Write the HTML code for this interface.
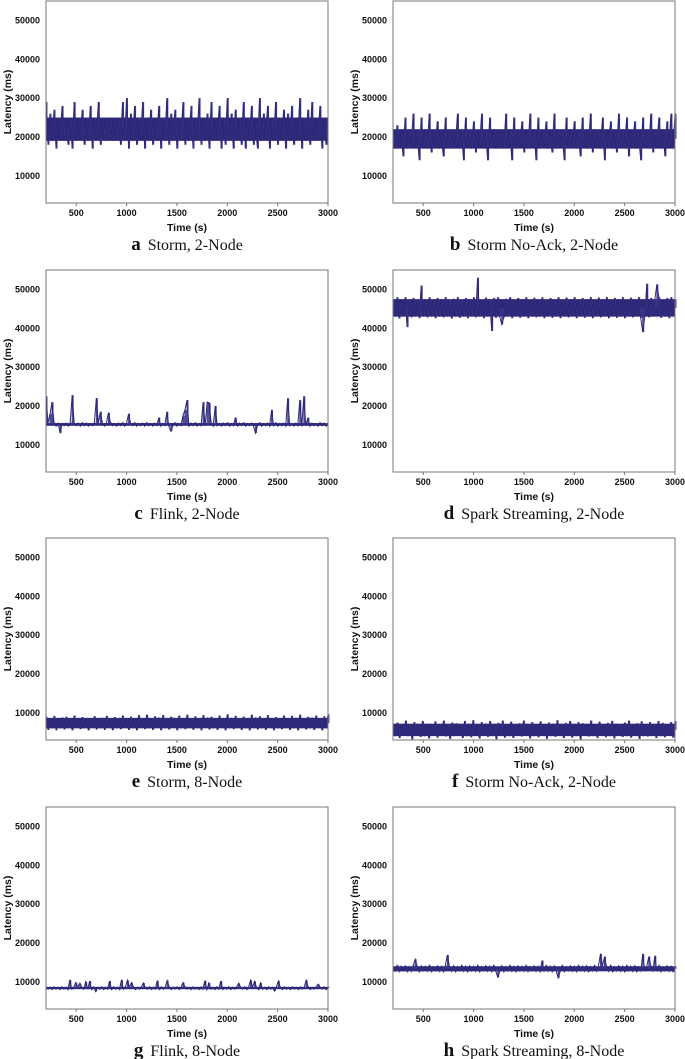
<!DOCTYPE html>
<html><head><meta charset="utf-8"><style>
html,body{margin:0;padding:0;background:#fff;}
svg{display:block;}
.tk{font-family:"Liberation Sans",sans-serif;font-weight:bold;font-size:9px;fill:#111;}
.ax{font-family:"Liberation Sans",sans-serif;font-weight:bold;font-size:10.5px;fill:#111;}
.cap{font-family:"Liberation Serif",serif;font-size:16px;fill:#111;}
</style></head><body>
<svg id="fig" width="685" height="1059" viewBox="0 0 685 1059" xmlns="http://www.w3.org/2000/svg"></svg>
<script>
const xTicks=[500,1000,1500,2000,2500,3000];
const yTicks=[10000,20000,30000,40000,50000];
const captionLetters=["a","b","c","d","e","f","g","h"];
const captionTexts=["Storm, 2-Node","Storm No-Ack, 2-Node","Flink, 2-Node","Spark Streaming, 2-Node","Storm, 8-Node","Storm No-Ack, 2-Node","Flink, 8-Node","Spark Streaming, 8-Node"];
const seriesStorm2=[29,18,26,19,27,17,24,20,28,19,22,18,25,17,29,19,24,20,27,18,23,19,28,17,25,20,29,18,24,19,23,20,24,19,23,20,25,18,29,19,30,17,26,19,28,18,25,20,29,17,24,19,27,18,23,20,28,17,25,19,30,18,26,19,27,17,24,20,29,18,23,19,28,17,25,20,30,18,24,19,26,17,29,19,24,20,28,17,25,18,30,19,26,17,27,20,24,18,29,17,25,19,28,18,23,17,30,19,26,20,28,17,24,19,29,18,25,20,27,17,26,19,28,18,24,20,30,17,25,19,27,18,29,19,24,20,28,17,25,18,22];
const seriesStormNoAck2=[20,17,23,18,21,15,25,17,22,18,26,17,21,14,25,18,22,17,26,16,21,18,24,17,20,15,25,18,22,17,21,18,26,17,22,14,25,18,21,17,24,16,20,18,26,17,21,14,25,18,22,17,20,18,21,17,26,18,22,14,25,17,21,18,24,16,20,17,26,18,22,14,25,17,21,18,24,17,20,16,26,17,22,18,21,14,25,17,22,18,24,17,21,15,25,18,20,17,26,16,22,18,21,17,25,14,20,18,24,17,21,16,26,18,22,17,25,15,21,18,24,17,20,14,25,18,22,17,26,16,21,18,25,17,22,15,24,18,26,17,26];
const seriesFlink2=[22.5,15.6,18,21,15.7,14.8,15.6,13,15.5,14.9,15.6,14.8,15.7,22.8,15.5,14.9,15.6,14.8,15.7,14.9,15.6,14.8,15.5,14.9,15.7,22,15.6,18.5,15.5,14.8,15.6,18.3,15.7,14.9,15.5,14.8,15.6,14.9,15.7,14.8,15.5,18,15.6,14.9,15.7,14.8,15.5,14.9,15.6,14.8,15.7,14.9,15.5,14.8,15.6,14.9,17,14.8,15.5,14.9,18.5,14.8,13.5,14.9,15.7,14.8,15.5,14.9,17.5,19,21.5,14.8,15.6,14.9,15.7,14.8,15.5,14.9,21,14.9,21,20.8,15.6,14.8,20,14.9,15.5,14.8,15.6,14.9,15.7,14.8,15.5,14.9,17,14.8,15.6,14.9,15.7,14.8,15.5,14.9,15.6,14.8,13,14.9,15.7,14.8,15.5,14.9,15.6,14.8,19,14.9,15.7,14.8,15.5,14.9,15.6,14.8,22,14.9,15.5,14.8,15.6,14.9,21.5,14.8,22.5,14.9,17,14.8,15.6,14.9,15.5,14.8,15.7,14.9,15.6,14.8,15.3];
const seriesSpark2=[47,43,48,42.5,47.5,43,48,40.3,47,42.8,47.8,43,47.2,42.6,51,43,47.5,42.8,48,43,47,42.6,47.8,43,47.5,42.8,48,43,47.2,42.5,47.6,43,48,42.7,47.3,43,47.8,42.6,47.5,43,48,42.8,53,43,47.4,42.6,47.9,43,47.5,39.3,47.8,42.7,48,43,41,42.8,47.6,43,48,42.6,47.3,43,47.8,42.7,47.5,43,48,42.6,47.2,43,47.9,42.8,47.5,43,48,42.6,47.3,43,47.8,42.7,47.5,43,48,42.6,47.2,43,47.9,42.8,47.5,43,48,42.6,47.3,43,47.8,42.7,47.5,43,48,42.6,47.2,43,47.9,42.8,47.5,43,48,42.6,47.3,43,47.8,42.7,47.5,43,48,42.6,47.2,43,47.9,42.8,47.5,43,48,42.6,39,43,51.5,42.8,47.8,43,47.5,51.3,48,42.7,47.3,43,47.8,42.6,48,43,47.5];
const seriesStorm8=[9,5.6,8.5,6,9.2,5.5,7.8,6.2,8.8,5.7,9,6,8.2,5.5,9.3,6.1,7.6,5.8,8.9,6,8,5.5,8.6,6.2,9.1,5.7,7.9,6,8.7,5.6,9.2,6.1,8.3,5.5,8.9,6,7.7,5.8,9.3,6.2,8.5,5.6,9,6,8.1,5.5,9.4,6.1,8.6,5.8,9.5,6,8.2,5.6,9.1,6.2,8.8,5.5,9.4,6,8.4,5.7,9,6.1,8.7,5.5,9.3,6,8.2,5.8,9.5,6.2,8.6,5.6,9.1,6,8.3,5.5,9.4,6.1,8.8,5.7,9,6,8.5,5.6,9.3,6.2,8.1,5.5,9.6,6,8.7,5.8,9.2,6.1,8.4,5.6,9,6,8.2,5.5,9.5,6.2,8.8,5.7,9.1,6,8.3,5.6,9.4,6.1,8.6,5.5,8.9,6,7.9,5.8,9.3,6.2,8.5,5.6,9.2,6,8.7,5.5,9.5,6.1,8.4,5.7,9,6,8.8,5.6,9.3,6.2,8.2,5.5,9.1,6,9.6];
const seriesStormNoAck8=[7,4,7.5,3.5,6.5,4.2,8,4,7,3.2,7.6,4.3,6.8,3.8,7.9,4,7.2,3.4,6.6,4.1,7.8,3.6,7.1,4.2,8,3.9,6.9,3.3,7.5,4,7.3,4.2,6.7,3.5,7.9,4,7.1,3.7,8.1,4.3,6.8,3.4,7.6,4.1,7.2,3.8,7.9,4,6.6,3.2,7.4,4.2,8,3.6,7,4,7.7,3.5,6.9,4.1,7.3,3.9,8,4.2,6.7,3.4,7.6,4,7.1,3.7,7.8,4.3,6.8,3.3,7.5,4,7.2,3.8,8.1,4.1,6.9,3.5,7.4,4.2,7.9,3.6,7,4,7.6,3.2,7.3,4.1,6.6,3.9,8,4,7.1,3.5,7.7,4.3,6.8,3.7,7.4,4,7.9,3.4,7.2,4.2,6.9,3.8,7.5,4,8,3.6,7,4.1,7.3,3.3,7.8,4,6.7,3.9,7.6,4.2,7.1,3.5,7.9,4,7.4,3.7,6.8,4.3,7.6,3.6,7.9];
const seriesFlink8=[8.7,8.1,8.6,8,8.7,8.1,8.6,8,8.7,8.1,8.6,8,10.5,8.1,8.6,9.8,8.7,9.6,8.6,8.1,10,8.1,10.2,8,8.7,7.5,8.6,8.1,8.7,8,8.6,8.1,10.2,8,8.7,8.1,8.6,8,10.5,8.1,8.7,10.4,8.6,9.8,8.7,8,8.6,8.1,8.7,9.7,8.6,8.1,8.7,8,8.6,8.1,10.3,8,8.7,8.1,8.6,10.3,8.7,8,8.6,8.1,8.7,8,8.6,9.8,8.7,8.1,8.6,8,8.7,8.1,8.6,8,8.7,8.1,10.3,8,9.7,8.1,8.6,8,8.7,8.1,10.2,8,8.6,8.1,8.7,8,8.6,8.1,8.7,9.6,8.6,8.1,8.7,8,8.6,10.4,8.7,10.1,8.6,8,9.7,8.1,8.6,8,8.7,8.1,8.6,7.6,8.7,10.2,8.6,8,8.7,8.1,8.6,8,8.7,8.1,8.6,8,8.7,8.1,8.6,10.4,8.7,8,8.6,8.1,8.7,9.4,8.6,8.1,8.7,8,8.7];
const seriesSpark8=[14,12.7,14.2,12.6,14,12.8,14.1,12.6,13.9,12.7,14.2,15.8,14,12.6,14.1,12.8,14,12.7,14.2,12.6,13.9,12.8,14.1,12.7,14,12.6,14.2,16.9,14,12.7,14.1,12.6,13.9,12.8,14.2,12.7,14,12.6,14.1,12.8,14,12.7,14.2,12.6,13.9,12.8,14.1,12.7,14,12.6,14.2,12.8,11.2,12.7,14.1,12.6,13.9,12.8,14.2,12.7,14,12.6,14.1,12.8,14,12.7,14.2,12.6,13.9,12.8,14.1,12.7,14,12.6,15.5,12.8,14.2,12.7,14,12.6,14.1,12.8,11,12.7,14.2,12.6,13.9,12.8,14.1,12.7,14,12.6,14.2,12.8,14,12.7,14.1,12.6,13.9,12.8,14.2,12.7,14,17.2,14.1,16.5,14,12.7,14.2,12.6,13.9,12.8,14.1,12.7,14,12.6,14.2,12.8,14,12.7,14.1,12.6,13.9,12.8,17.2,12.7,14,16.5,14.1,12.8,16.7,12.7,14.2,12.6,13.9,12.8,14.1,12.7,14,12.6,14];
const allSeries=[seriesStorm2,seriesStormNoAck2,seriesFlink2,seriesSpark2,seriesStorm8,seriesStormNoAck8,seriesFlink8,seriesSpark8];
const seriesUnit=1000;
const tStart=200, tEnd=3000;

const NS="http://www.w3.org/2000/svg";
const fig=document.getElementById('fig');
function mk(tag,attrs,parent){const e=document.createElementNS(NS,tag);for(const k in attrs)e.setAttribute(k,attrs[k]);parent.appendChild(e);return e;}
const colX=[46,393], rowY=[1,270,538,807], W=282, H=202;
const xMin=200,xMax=3000,yMin=3000,yMax=55000;

allSeries.forEach((vals,p)=>{
  const L=colX[p%2], T=rowY[Math.floor(p/2)], B=T+H;
  const sx=v=>L+(v-xMin)/(xMax-xMin)*W;
  const sy=v=>T+(yMax-v)/(yMax-yMin)*H;
  const step=(tEnd-tStart)/(vals.length-1);
  const sorted=vals.slice().sort((a,b)=>a-b);
  const lo=sorted[Math.floor(sorted.length*0.3)], hi=sorted[Math.floor(sorted.length*0.7)];
  const g=mk('g',{},fig);
  
  
  // dense core band built from the data percentiles
  const core=mk('rect',{x:sx(tStart),y:sy(hi*seriesUnit),width:sx(tEnd)-sx(tStart),height:Math.max(1,sy(lo*seriesUnit)-sy(hi*seriesUnit)),fill:'#2d2878'},g);
  
  
  let d='', v2='';
  vals.forEach((v,i)=>{
    const x=sx(tStart+i*step).toFixed(2);
    d+=(i?'L':'M')+x+','+sy(v*seriesUnit).toFixed(2);
    const mid=(lo+hi)/2;
    v2+='M'+x+','+sy(v*seriesUnit).toFixed(2)+'V'+sy(mid*seriesUnit).toFixed(2);
    const xo=(sx(tStart+i*step)+1).toFixed(2);
    v2+='M'+xo+','+sy(v*seriesUnit).toFixed(2)+'V'+sy(mid*seriesUnit).toFixed(2);
  });
  const spikes=mk('path',{d:v2,fill:'none',stroke:'#3a3588','stroke-width':'0.9'},g);
  
  
  const line=mk('path',{d:d,fill:'none',stroke:'#2d2878','stroke-width':'1','stroke-linejoin':'miter'},g);
  
  
  const box=mk('rect',{x:L,y:T,width:W,height:H,fill:'none',stroke:'#777','stroke-width':'1'},g);
  
  
  yTicks.forEach(v=>{
    const t=mk('text',{x:L-6,y:sy(v)+3,'text-anchor':'end',class:'tk'},g);t.textContent=v;
    
    
  });
  xTicks.forEach(v=>{
    mk('line',{x1:sx(v),x2:sx(v),y1:B,y2:B+3,stroke:'#777','stroke-width':'1'},g);
    const t=mk('text',{x:sx(v),y:B+13,'text-anchor':'middle',class:'tk'},g);t.textContent=v;
    
    
  });
  const xt=mk('text',{x:L+W/2,y:B+28,'text-anchor':'middle',class:'ax'},g);xt.textContent='Time (s)';
  
  
  const yt=mk('text',{x:0,y:0,'text-anchor':'middle',class:'ax',transform:`translate(${L-35},${T+H/2}) rotate(-90)`},g);yt.textContent='Latency (ms)';
  
  
  const cap=mk('text',{x:L+W/2,y:B+47,'text-anchor':'middle',class:'cap'},g);
  const b=mk('tspan',{'font-weight':'bold','font-size':'19px'},cap);b.textContent=captionLetters[p];
  const r=mk('tspan',{dx:'7'},cap);r.textContent=captionTexts[p];
  
  
});
</script>
</body></html>
